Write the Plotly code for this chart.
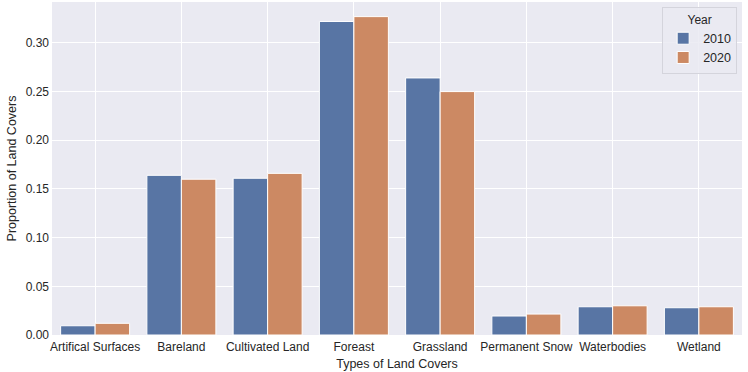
import plotly.graph_objects as go

categories = ["Artifical Surfaces", "Bareland", "Cultivated Land", "Foreast",
              "Grassland", "Permanent Snow", "Waterbodies", "Wetland"]
years = ["2010", "2020"]
values_2010 = [0.0095, 0.164, 0.161, 0.322, 0.264, 0.0195, 0.029, 0.028]
values_2020 = [0.0120, 0.160, 0.166, 0.327, 0.250, 0.0215, 0.030, 0.029]
colors = ["#5875a4", "#cc8963"]

fig = go.Figure()
for year, vals, col in zip(years, [values_2010, values_2020], colors):
    fig.add_trace(go.Bar(
        x=categories, y=vals, name=year,
        marker=dict(color=col, line=dict(color="white", width=1)),
    ))

fig.update_layout(
    width=748, height=372,
    margin=dict(l=52, r=6, t=2, b=37),
    paper_bgcolor="white",
    plot_bgcolor="#eaeaf2",
    barmode="group", bargap=0.2, bargroupgap=0,
    font=dict(family="Liberation Sans, Arial", size=12, color="#262626"),
    legend=dict(
        title=dict(text="Year", side="top center", font=dict(size=12)),
        x=0.993, y=0.985, xanchor="right", yanchor="top",
        bgcolor="rgba(234,234,242,0.85)", bordercolor="#d4d4dc", borderwidth=1,
        font=dict(size=12.5),
    ),
)
fig.update_xaxes(
    title=dict(text="Types of Land Covers", standoff=6, font=dict(size=12.5)),
    automargin=False, tickfont=dict(size=12), ticklabelstandoff=3,
    showgrid=True, gridcolor="white", gridwidth=1,
    ticks="", showline=False, zeroline=False,
)
fig.update_yaxes(
    title=dict(text="Proportion of Land Covers", standoff=6, font=dict(size=12.5)),
    automargin=False, tickfont=dict(size=12), ticklabelstandoff=2,
    range=[0, 0.342], tickvals=[0, 0.05, 0.10, 0.15, 0.20, 0.25, 0.30],
    tickformat=".2f",
    showgrid=True, gridcolor="white", gridwidth=1,
    ticks="", showline=False, zeroline=False,
)

# page body has a default 8px margin, remove it so the figure fills the window
fig.write_html("out.html", config={"displayModeBar": False},
               post_script="document.body.style.margin='0';")
